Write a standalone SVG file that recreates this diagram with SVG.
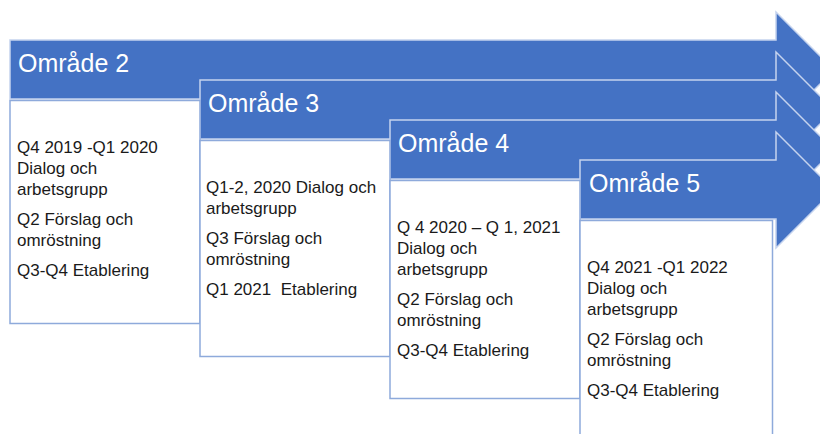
<svg xmlns="http://www.w3.org/2000/svg" width="820" height="434" viewBox="0 0 820 434">
<style>
.arrow{fill:#4472C4;stroke:#c5d3ee;stroke-width:1.5;stroke-linejoin:miter}
.box{fill:#ffffff;stroke:#8eaadb;stroke-width:1.5}
.hdr{font-family:"Liberation Sans",Arial,sans-serif;font-size:25px;fill:#ffffff}
.txt{font-family:"Liberation Sans",Arial,sans-serif;font-size:17px;fill:#1a1a1a;white-space:pre}
</style>
<rect width="820" height="434" fill="#ffffff"/>
<g id="omrade2">
<polygon class="arrow" points="10,40 776,40 776,12 834,70 776,128 776,99 10,99"/>
<text class="hdr" x="18" y="72">Område 2</text>
</g>
<g id="omrade3">
<polygon class="arrow" points="200,80 776,80 776,52 834,110 776,168 776,139 200,139"/>
<text class="hdr" x="208" y="112">Område 3</text>
</g>
<g id="omrade4">
<polygon class="arrow" points="390,120 776,120 776,92 834,150 776,208 776,179 390,179"/>
<text class="hdr" x="398" y="152">Område 4</text>
</g>
<g id="omrade5">
<polygon class="arrow" points="580,160 776,160 776,132 834,190 776,248 776,219 580,219"/>
<text class="hdr" x="589" y="192">Område 5</text>
</g>
<g id="box2">
<rect class="box" x="10" y="100.5" width="190" height="223"/>
<text class="txt"><tspan x="17" y="153">Q4 2019 -Q1 2020</tspan><tspan x="17" y="174">Dialog och</tspan><tspan x="17" y="195">arbetsgrupp</tspan><tspan x="17" y="225">Q2 Förslag och</tspan><tspan x="17" y="246">omröstning</tspan><tspan x="17" y="276">Q3-Q4 Etablering</tspan></text>
</g>
<g id="box3">
<rect class="box" x="200" y="140.5" width="190" height="216"/>
<text class="txt" xml:space="preserve"><tspan x="206" y="193">Q1-2, 2020 Dialog och</tspan><tspan x="206" y="214">arbetsgrupp</tspan><tspan x="206" y="244">Q3 Förslag och</tspan><tspan x="206" y="265">omröstning</tspan><tspan x="206" y="295">Q1 2021  Etablering</tspan></text>
</g>
<g id="box4">
<rect class="box" x="390" y="180.5" width="190" height="218"/>
<text class="txt"><tspan x="397" y="233">Q 4 2020 – Q 1, 2021</tspan><tspan x="397" y="254">Dialog och</tspan><tspan x="397" y="275">arbetsgrupp</tspan><tspan x="397" y="305">Q2 Förslag och</tspan><tspan x="397" y="326">omröstning</tspan><tspan x="397" y="356">Q3-Q4 Etablering</tspan></text>
</g>
<g id="box5">
<rect class="box" x="580" y="220.5" width="192.5" height="230"/>
<text class="txt"><tspan x="587" y="273">Q4 2021 -Q1 2022</tspan><tspan x="587" y="294">Dialog och</tspan><tspan x="587" y="315">arbetsgrupp</tspan><tspan x="587" y="345">Q2 Förslag och</tspan><tspan x="587" y="366">omröstning</tspan><tspan x="587" y="396">Q3-Q4 Etablering</tspan></text>
</g>
<g id="connectors"></g>
</svg>
